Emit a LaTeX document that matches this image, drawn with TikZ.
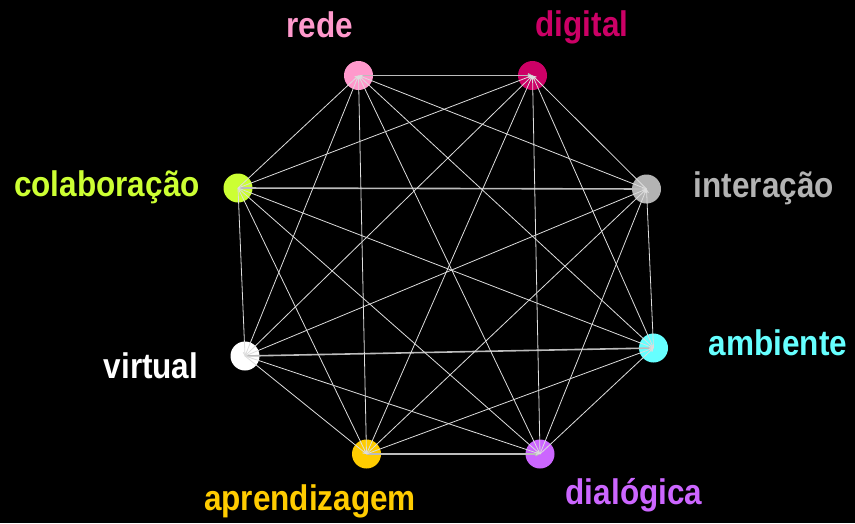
\documentclass[tikz,border=0pt]{standalone}
\usepackage{fontspec}
\setmainfont{Liberation Sans}
\usetikzlibrary{arrows.meta}
\definecolor{cRede}{HTML}{FF99CC}
\definecolor{cDigital}{HTML}{CC0066}
\definecolor{cInter}{HTML}{B3B3B3}
\definecolor{cAmb}{HTML}{66FFFF}
\definecolor{cDial}{HTML}{CC66FF}
\definecolor{cApr}{HTML}{FFCC00}
\definecolor{cVirt}{HTML}{FFFFFF}
\definecolor{cColab}{HTML}{CCFF33}
\definecolor{cEdge}{HTML}{DDDDDD}
\newcommand{\tallword}[1]{\scalebox{1}[1.13]{#1}}
\tikzset{
  dot/.style={circle, minimum size=29pt, inner sep=0pt, fill=#1},
  word/.style={text=#1, font=\fontsize{31.5}{36}\selectfont\bfseries, anchor=base, inner sep=0pt},
  link/.style={draw=cEdge, line width=0.8pt, -{Straight Barb[length=3pt,width=3.5pt]}},
  rim/.style={link, draw=cEdge!85!black, line width=1.6pt}
}
\begin{document}
\begin{tikzpicture}[x=1pt,y=-1pt]
  \fill[black] (0,0) rectangle (855,523);
  \useasboundingbox (0,0) rectangle (855,523);

  % vertices
  \node[dot=cRede]    (rede)  at (358.5,75.5) {};
  \node[dot=cDigital] (dig)   at (532.5,75.5) {};
  \node[dot=cInter]   (inter) at (646.5,189)  {};
  \node[dot=cAmb]     (amb)   at (653.5,348)  {};
  \node[dot=cDial]    (dial)  at (540,454)    {};
  \node[dot=cApr]     (apr)   at (366.5,454)  {};
  \node[dot=cVirt]    (virt)  at (245,356)    {};
  \node[dot=cColab]   (colab) at (238,188)    {};

  % labels
  \node[word=cRede]    (lrede)  at (320,37)  {\tallword{rede}};
  \node[word=cDigital] (ldig)   at (582,36)  {\tallword{digital}};
  \node[word=cInter]   (linter) at (764,197) {\tallword{interação}};
  \node[word=cAmb]     (lamb)   at (778,355) {\tallword{ambiente}};
  \node[word=cDial]    (ldial)  at (634,504) {\tallword{dialógica}};
  \node[word=cApr]     (lapr)   at (310,510) {\tallword{aprendizagem}};
  \node[word=cVirt]    (lvirt)  at (151,378) {\tallword{virtual}};
  \node[word=cColab]   (lcolab) at (107,196) {\tallword{colaboração}};

  % heavier links between neighbours facing each other
  \foreach \a/\b in {rede/dig, colab/inter, virt/amb, apr/dial}
    \draw[rim] (\a.center) -- (\b.center);

  % every other pair of vertices is joined
  \foreach \a/\b in {rede/inter, rede/amb, rede/dial, rede/apr, rede/virt, rede/colab,
                     dig/inter, dig/amb, dig/dial, dig/apr, dig/virt, dig/colab,
                     inter/amb, inter/dial, inter/apr, inter/virt,
                     amb/dial, amb/apr, amb/colab,
                     dial/virt, dial/colab,
                     apr/virt, apr/colab,
                     virt/colab}
    \draw[link] (\b.center) -- (\a.center);
\end{tikzpicture}
\end{document}
